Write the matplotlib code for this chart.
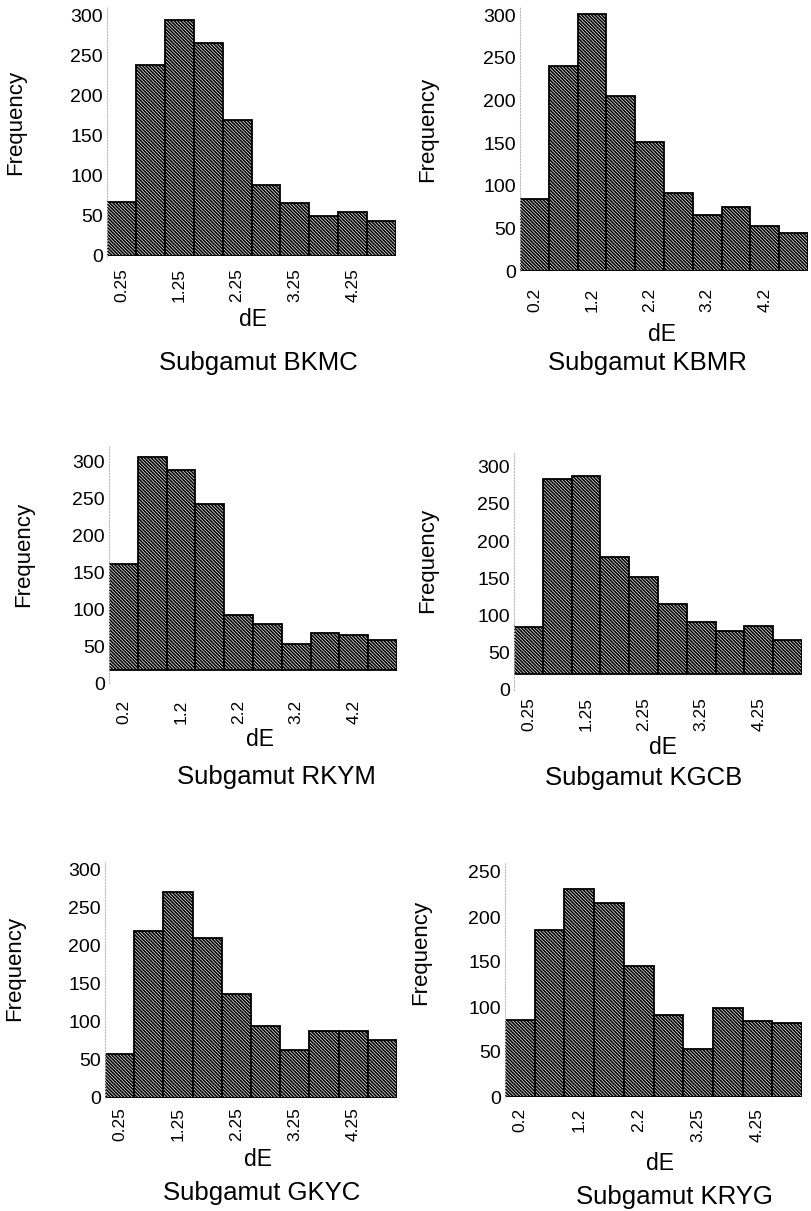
import matplotlib
matplotlib.use("Agg")
import matplotlib.pyplot as plt
import numpy as np

plt.rcParams['font.family'] = ['Liberation Sans', 'DejaVu Sans']
plt.rcParams['hatch.linewidth'] = 1.2

# Frequencies per dE bin (10 bins of width 0.5 between 0 and 5)
names = ["BKMC", "KBMR", "RKYM", "KGCB", "GKYC", "KRYG"]
bkmc = [67, 238, 294, 265, 169, 89, 66, 50, 55, 43]
kbmr = [84, 240, 301, 205, 151, 92, 66, 75, 53, 44]
rkym = [161, 307, 289, 243, 92, 80, 53, 68, 66, 58]
kgcb = [84, 284, 288, 179, 152, 116, 92, 79, 86, 67]
gkyc = [58, 220, 271, 211, 136, 95, 63, 88, 88, 76]
kryg = [86, 186, 231, 216, 146, 91, 53, 99, 84, 82]
freqs = [bkmc, kbmr, rkym, kgcb, gkyc, kryg]

labels_25 = ["0.25", "1.25", "2.25", "3.25", "4.25"]
labels_2 = ["0.2", "1.2", "2.2", "3.2", "4.2"]
labels_mix = ["0.2", "1.2", "2.2", "3.25", "4.25"]
xlabels = [labels_25, labels_2, labels_2, labels_25, labels_25, labels_mix]

# bars in the scan of the middle row start a bit above zero
bases = [0, 0, 18, 22, 0, 0]
ytop_ticks = [300, 300, 300, 300, 300, 250]

edges = np.linspace(0, 5, 11)
centers = (edges[:-1] + edges[1:]) / 2

W, H = 811, 1211
# left px, right px, zero-line px, px per unit, ymax, xtick pad
layout = [
    (107, 396, 256, 0.803, 310, 9),
    (520, 808, 271, 0.853, 310, 12),
    (109, 397, 683.3, 0.7387, 320, 12),
    (514, 802, 690, 0.7444, 320, 5),
    (105, 397, 1097.7, 0.759, 310, 7),
    (505, 802, 1097, 0.9, 260, 8),
]
# (Frequency x,y), (dE x,y), (title x,y) in px
text_pos = [
    ((16, 122), (253, 320), (258, 363)),
    ((428, 129), (662, 335), (647, 363)),
    ((24, 554), (260, 740), (276, 777)),
    ((428, 560), (663, 747), (644, 778)),
    ((15, 968), (258, 1160), (262, 1193)),
    ((421, 952), (660, 1163), (674, 1197)),
]

fig = plt.figure(figsize=(W / 100, H / 100), dpi=100)

for i, name in enumerate(names):
    left, right, y0, ppu, ymax, xpad = layout[i]
    rect = [left / W, 1 - y0 / H, (right - left) / W, ymax * ppu / H]
    ax = fig.add_axes(rect)
    f = np.array(freqs[i])
    ax.bar(edges[:-1], f - bases[i], width=0.5, bottom=bases[i], align="edge",
           facecolor="white", edgecolor="black", linewidth=1.3, hatch="\\" * 10)
    ax.set_xlim(0, 5)
    ax.set_ylim(0, ymax)
    ax.set_yticks(np.arange(0, ytop_ticks[i] + 1, 50))
    ax.set_xticks(centers[::2])
    ax.set_xticklabels(xlabels[i], rotation=90)
    ax.tick_params(axis="y", length=0, pad=3, labelsize=14)
    ax.tick_params(axis="x", length=0, pad=xpad, labelsize=12.5)
    for s in ["top", "right", "bottom"]:
        ax.spines[s].set_visible(False)
    ax.spines["left"].set_color("#bbbbbb")
    ax.spines["left"].set_linestyle(":")
    ax.spines["left"].set_linewidth(0.8)
    ax.set_facecolor("none")

    (fx, fy), (dx, dy), (tx, ty) = text_pos[i]
    fig.text(fx / W, 1 - fy / H, "Frequency", rotation=90, ha="center", va="center", fontsize=16)
    fig.text(dx / W, 1 - dy / H, "dE", ha="center", va="center", fontsize=16.5)
    fig.text(tx / W, 1 - ty / H, "Subgamut " + name, ha="center", va="center", fontsize=18.5)

fig.savefig("out.png", dpi=100)
